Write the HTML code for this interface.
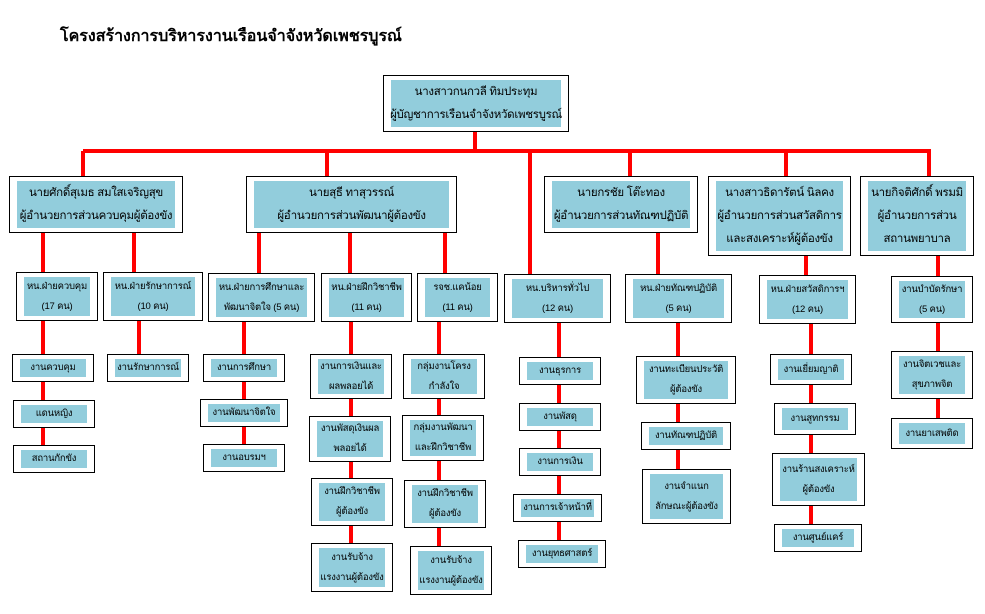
<!DOCTYPE html>
<html><head><meta charset="utf-8"><style>
body{margin:0;background:#fff;width:985px;height:614px;position:relative;overflow:hidden;font-family:"Liberation Sans","Noto Sans CJK SC","WenQuanYi Zen Hei",sans-serif;}
.t{position:absolute;left:60px;top:24px;font-size:16px;font-weight:bold;color:#000;}
.b{position:absolute;background:#fff;border:1.5px solid #000;box-sizing:border-box;}
.f{position:absolute;left:7px;right:7px;top:4px;bottom:4px;background:#92CDDC;display:flex;flex-direction:column;justify-content:center;align-items:center;text-align:center;font-size:9.5px;line-height:20px;color:#000;white-space:nowrap;letter-spacing:-0.2px;}
.L .f{font-size:11.5px;line-height:23px;letter-spacing:-0.3px;}
svg{position:absolute;left:0;top:0;}
</style></head><body>
<div class="t">โครงสร้างการบริหารงานเรือนจำจังหวัดเพชรบูรณ์</div>
<svg width="985" height="614"><g stroke="#f00" stroke-width="4" fill="none">
<line x1="475" y1="131" x2="475" y2="151"/>
<line x1="83" y1="151" x2="931" y2="151"/>
<line x1="83" y1="151" x2="83" y2="177"/>
<line x1="327" y1="151" x2="327" y2="177"/>
<line x1="530" y1="151" x2="530" y2="275"/>
<line x1="630" y1="151" x2="630" y2="177"/>
<line x1="786" y1="151" x2="786" y2="177"/>
<line x1="929" y1="151" x2="929" y2="177"/>
<line x1="43" y1="232" x2="43" y2="273"/>
<line x1="134" y1="232" x2="134" y2="273"/>
<line x1="259" y1="232" x2="259" y2="274"/>
<line x1="350" y1="232" x2="350" y2="274"/>
<line x1="445" y1="232" x2="445" y2="274"/>
<line x1="658" y1="232" x2="658" y2="275"/>
<line x1="806" y1="256" x2="806" y2="276"/>
<line x1="938" y1="256" x2="938" y2="277"/>
<line x1="43" y1="320" x2="43" y2="446"/>
<line x1="139" y1="320" x2="139" y2="355"/>
<line x1="244" y1="321" x2="244" y2="445"/>
<line x1="351" y1="321" x2="351" y2="544"/>
<line x1="439" y1="321" x2="439" y2="547"/>
<line x1="559" y1="322" x2="559" y2="541"/>
<line x1="678" y1="322" x2="678" y2="470"/>
<line x1="811" y1="323" x2="811" y2="525"/>
<line x1="938" y1="322" x2="938" y2="419"/>
</g></svg>

<div class="b L" style="left:383px;top:75px;width:186px;height:57px"><div class="f"><span>นางสาวกนกวลี ทิมประทุม</span><span>ผู้บัญชาการเรือนจำจังหวัดเพชรบูรณ์</span></div></div>

<div class="b L" style="left:9px;top:176px;width:174px;height:57px"><div class="f"><span>นายศักดิ์สุเมธ สมใสเจริญสุข</span><span>ผู้อำนวยการส่วนควบคุมผู้ต้องขัง</span></div></div>
<div class="b L" style="left:246px;top:176px;width:211px;height:57px"><div class="f"><span>นายสุธี ทาสุวรรณ์</span><span>ผู้อำนวยการส่วนพัฒนาผู้ต้องขัง</span></div></div>
<div class="b L" style="left:544px;top:176px;width:154px;height:57px"><div class="f"><span>นายกรชัย โต๊ะทอง</span><span>ผู้อำนวยการส่วนทัณฑปฏิบัติ</span></div></div>
<div class="b L" style="left:708px;top:176px;width:143px;height:80px"><div class="f"><span>นางสาวธิดารัตน์ นิลคง</span><span>ผู้อำนวยการส่วนสวัสดิการ</span><span>และสงเคราะห์ผู้ต้องขัง</span></div></div>
<div class="b L" style="left:860px;top:176px;width:114px;height:80px"><div class="f"><span>นายกิจติศักดิ์ พรมมิ</span><span>ผู้อำนวยการส่วน</span><span>สถานพยาบาล</span></div></div>

<div class="b" style="left:16px;top:272px;width:82px;height:49px"><div class="f"><span>หน.ฝ่ายควบคุม</span><span>(17 คน)</span></div></div>
<div class="b" style="left:103px;top:272px;width:100px;height:49px"><div class="f"><span>หน.ฝ่ายรักษาการณ์</span><span>(10 คน)</span></div></div>
<div class="b" style="left:208px;top:273px;width:107px;height:49px"><div class="f"><span>หน.ฝ่ายการศึกษาและ</span><span>พัฒนาจิตใจ (5 คน)</span></div></div>
<div class="b" style="left:321px;top:273px;width:91px;height:49px"><div class="f"><span>หน.ฝ่ายฝึกวิชาชีพ</span><span>(11 คน)</span></div></div>
<div class="b" style="left:417px;top:273px;width:81px;height:49px"><div class="f"><span>รจช.แคน้อย</span><span>(11 คน)</span></div></div>
<div class="b" style="left:504px;top:274px;width:107px;height:49px"><div class="f"><span>หน.บริหารทั่วไป</span><span>(12 คน)</span></div></div>
<div class="b" style="left:625px;top:274px;width:107px;height:49px"><div class="f"><span>หน.ฝ่ายทัณฑปฏิบัติ</span><span>(5 คน)</span></div></div>
<div class="b" style="left:759px;top:275px;width:97px;height:49px"><div class="f"><span>หน.ฝ่ายสวัสดิการฯ</span><span>(12 คน)</span></div></div>
<div class="b" style="left:891px;top:276px;width:82px;height:47px"><div class="f"><span>งานบำบัดรักษา</span><span>(5 คน)</span></div></div>

<div class="b" style="left:12px;top:354px;width:82px;height:28px"><div class="f">งานควบคุม</div></div>
<div class="b" style="left:13px;top:400px;width:82px;height:28px"><div class="f">แดนหญิง</div></div>
<div class="b" style="left:13px;top:445px;width:82px;height:28px"><div class="f">สถานกักขัง</div></div>
<div class="b" style="left:107px;top:354px;width:82px;height:28px"><div class="f">งานรักษาการณ์</div></div>
<div class="b" style="left:203px;top:354px;width:82px;height:28px"><div class="f">งานการศึกษา</div></div>
<div class="b" style="left:200px;top:399px;width:88px;height:28px"><div class="f">งานพัฒนาจิตใจ</div></div>
<div class="b" style="left:203px;top:444px;width:82px;height:28px"><div class="f">งานอบรมฯ</div></div>

<div class="b" style="left:310px;top:354px;width:82px;height:45px"><div class="f"><span>งานการเงินและ</span><span>ผลพลอยได้</span></div></div>
<div class="b" style="left:309px;top:416px;width:82px;height:46px"><div class="f"><span>งานพัสดุเงินผล</span><span>พลอยได้</span></div></div>
<div class="b" style="left:311px;top:478px;width:82px;height:48px"><div class="f"><span>งานฝึกวิชาชีพ</span><span>ผู้ต้องขัง</span></div></div>
<div class="b" style="left:311px;top:543px;width:82px;height:49px"><div class="f"><span>งานรับจ้าง</span><span>แรงงานผู้ต้องขัง</span></div></div>

<div class="b" style="left:403px;top:354px;width:82px;height:45px"><div class="f"><span>กลุ่มงานโครง</span><span>กำลังใจ</span></div></div>
<div class="b" style="left:402px;top:415px;width:82px;height:46px"><div class="f"><span>กลุ่มงานพัฒนา</span><span>และฝึกวิชาชีพ</span></div></div>
<div class="b" style="left:404px;top:480px;width:82px;height:48px"><div class="f"><span>งานฝึกวิชาชีพ</span><span>ผู้ต้องขัง</span></div></div>
<div class="b" style="left:410px;top:546px;width:82px;height:49px"><div class="f"><span>งานรับจ้าง</span><span>แรงงานผู้ต้องขัง</span></div></div>

<div class="b" style="left:519px;top:357px;width:82px;height:28px"><div class="f">งานธุรการ</div></div>
<div class="b" style="left:519px;top:403px;width:82px;height:28px"><div class="f">งานพัสดุ</div></div>
<div class="b" style="left:519px;top:448px;width:82px;height:28px"><div class="f">งานการเงิน</div></div>
<div class="b" style="left:513px;top:494px;width:89px;height:28px"><div class="f">งานการเจ้าหน้าที่</div></div>
<div class="b" style="left:518px;top:540px;width:88px;height:28px"><div class="f">งานยุทธศาสตร์</div></div>

<div class="b" style="left:636px;top:356px;width:100px;height:48px"><div class="f"><span>งานทะเบียนประวัติ</span><span>ผู้ต้องขัง</span></div></div>
<div class="b" style="left:641px;top:422px;width:90px;height:28px"><div class="f">งานทัณฑปฏิบัติ</div></div>
<div class="b" style="left:642px;top:469px;width:89px;height:55px"><div class="f"><span>งานจำแนก</span><span>ลักษณะผู้ต้องขัง</span></div></div>

<div class="b" style="left:770px;top:354px;width:82px;height:31px"><div class="f">งานเยี่ยมญาติ</div></div>
<div class="b" style="left:774px;top:403px;width:82px;height:32px"><div class="f">งานสูทกรรม</div></div>
<div class="b" style="left:772px;top:453px;width:93px;height:53px"><div class="f"><span>งานร้านสงเคราะห์</span><span>ผู้ต้องขัง</span></div></div>
<div class="b" style="left:774px;top:524px;width:88px;height:28px"><div class="f">งานศูนย์แคร์</div></div>

<div class="b" style="left:891px;top:351px;width:82px;height:48px"><div class="f"><span>งานจิตเวชและ</span><span>สุขภาพจิต</span></div></div>
<div class="b" style="left:891px;top:418px;width:82px;height:31px"><div class="f">งานยาเสพติด</div></div>
</body></html>
